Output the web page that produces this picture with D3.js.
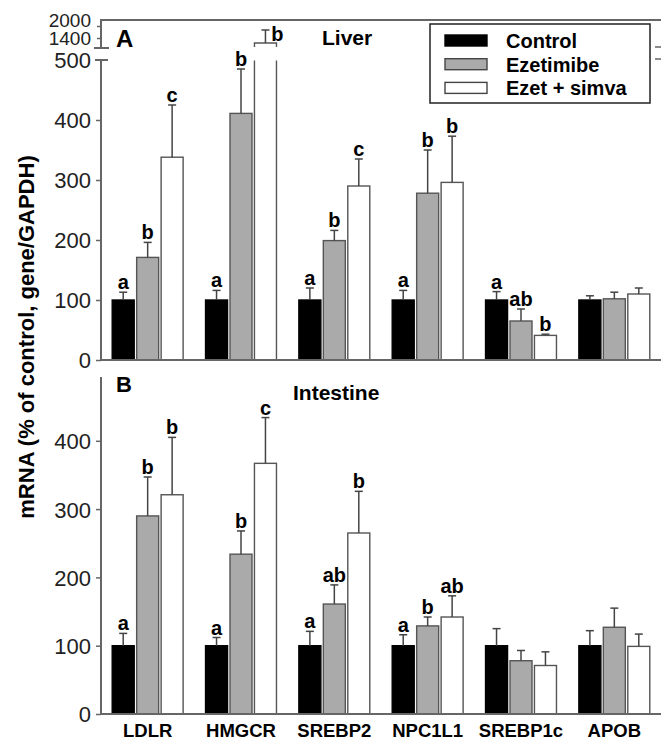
<!DOCTYPE html>
<html>
<head>
<meta charset="utf-8">
<script src="https://cdn.jsdelivr.net/npm/d3@7"></script>
<style>
  body { margin: 0; background: #fff; }
  svg { display: block; font-family: "Liberation Sans", Arial, sans-serif; }
</style>
</head>
<body>
<div id="container"></div>
<script>
var width = 661, height = 740;

// data
var genes = ["LDLR", "HMGCR", "SREBP2", "NPC1L1", "SREBP1c", "APOB"];
var series = ["Control", "Ezetimibe", "Ezet + simva"];

var liverControl = [100, 100, 100, 100, 100, 100];
var liverEzet = [171, 411, 199, 278, 65, 102];
var liverSimva = [338, 1150, 290, 296, 41, 110];
var liverControlSem = [13, 16, 20, 16, 14, 7];
var liverEzetSem = [25, 74, 17, 72, 20, 11];
var liverSimvaSem = [87, 650, 45, 77, 2, 10];
var liverLetters = [["a", "a", "a", "a", "a", ""],
                    ["b", "b", "b", "b", "ab", ""],
                    ["c", "b", "c", "b", "b", ""]];

var intControl = [100, 100, 100, 100, 100, 100];
var intEzet = [290, 234, 161, 129, 78, 127];
var intSimva = [321, 367, 265, 142, 71, 99];
var intControlSem = [18, 12, 21, 16, 25, 22];
var intEzetSem = [57, 34, 28, 13, 15, 28];
var intSimvaSem = [84, 67, 61, 31, 20, 18];
var intLetters = [["a", "a", "a", "a", "", ""],
                  ["b", "b", "ab", "b", "", ""],
                  ["b", "c", "b", "ab", "", ""]];

var lowTicks = [0, 100, 200, 300, 400, 500];
var upTicks = [1400, 2000];
var intTicks = [0, 100, 200, 300, 400];

var fills = ["#000", "#aaa", "#fff"];
var axisColor = "#666";

var svg = d3.select("#container").append("svg")
  .attr("width", width).attr("height", height);

var x0 = d3.scaleBand().domain(genes).range([101, 661])
  .paddingInner(0.24).paddingOuter(0.12);
var x1 = d3.scaleBand().domain(series).range([0, x0.bandwidth()])
  .paddingInner(0.1);

function rows(means, sems, letters) {
  var out = [];
  genes.forEach(function(g, i) {
    series.forEach(function(s, j) {
      out.push({gene: g, s: s, j: j, v: means[j][i], e: sems[j][i], letter: letters[j][i]});
    });
  });
  return out;
}

var liverData = rows([liverControl, liverEzet, liverSimva],
                     [liverControlSem, liverEzetSem, liverSimvaSem], liverLetters);
var intData = rows([intControl, intEzet, intSimva],
                   [intControlSem, intEzetSem, intSimvaSem], intLetters);

// scales
var yA = d3.scaleLinear().domain([0, 500]).range([360, 60]);
var yU = d3.scaleLinear().domain([900, 2300]).range([48, 20]);
var yB = d3.scaleLinear().domain([0, 500]).range([714, 372.5]);

function line(g, x1_, y1_, x2_, y2_, w, c) {
  g.append("line").attr("x1", x1_).attr("y1", y1_).attr("x2", x2_).attr("y2", y2_)
    .attr("stroke", c || axisColor).attr("stroke-width", w || 2);
}

function styleAxis(g) {
  g.select(".domain").remove();
  g.selectAll(".tick line").attr("stroke", axisColor).attr("stroke-width", 1.5);
  g.selectAll(".tick text").attr("fill", "#222").style("font-size", "22px");
}

var fmt = d3.format("d");

// ---- Panel A axes
var axA = svg.append("g");
axA.append("g").attr("transform", "translate(101,0)")
  .call(d3.axisLeft(yA).tickValues(lowTicks.slice(0, 5)).tickSize(5).tickPadding(5).tickFormat(fmt))
  .call(styleAxis);
axA.append("g").attr("transform", "translate(101,0)")
  .call(d3.axisLeft(yA).tickValues([500]).tickSize(0).tickPadding(10).tickFormat(fmt))
  .call(styleAxis);
axA.selectAll(".tick text").attr("dy", "0.36em");
var upAxis = axA.append("g").attr("transform", "translate(101,0)")
  .call(d3.axisLeft(yU).tickValues(upTicks).tickSize(4).tickPadding(6).tickFormat(fmt))
  .call(styleAxis);
upAxis.selectAll(".tick text").style("font-size", "19px")
  .attr("dy", function(d) { return d === 2000 ? "0.02em" : "0.32em"; });
line(axA, 101, yA(0), 101, yA(500));
line(axA, 95, yA(500), 108, yA(500));
line(axA, 101, 20, 101, yU(900));
line(axA, 94, yU(900), 109, yU(900));
line(axA, 100, 20, 661, 20);
line(axA, 655, 47, 661, 47, 1.5);
line(axA, 655, 59, 661, 59, 1.5);

// ---- Panel B axes
var axB = svg.append("g");
axB.append("g").attr("transform", "translate(101,0)")
  .call(d3.axisLeft(yB).tickValues(intTicks).tickSize(5).tickPadding(5).tickFormat(fmt))
  .call(styleAxis);
axB.selectAll(".tick text").attr("dy", "0.36em");
line(axB, 101, yB(0), 101, 377);

// ---- bars
function drawBars(data, y, broken) {
  var g = svg.append("g");
  data.forEach(function(d) {
    var bx = x0(d.gene) + x1(d.s), bw = x1.bandwidth();
    var cx = bx + bw / 2;
    var base = y(0);
    var stroke = d.j === 0 ? "#000" : "#555";
    var isBroken = broken && d.v > 500;
    if (!isBroken) {
      g.append("rect").attr("x", bx).attr("y", y(d.v))
        .attr("width", bw).attr("height", base - y(d.v))
        .attr("fill", fills[d.j]).attr("stroke", stroke).attr("stroke-width", 1.4);
      var top = y(d.v + d.e);
      line(g, cx, y(d.v), cx, top, 1.5, "#444");
      line(g, cx - 4, top, cx + 4, top, 1.5, "#444");
      if (d.letter) {
        g.append("text").attr("x", cx).attr("y", top - 3)
          .attr("text-anchor", "middle").style("font-size", "20px").style("font-weight", "bold")
          .text(d.letter);
      }
    } else {
      // lower piece, open at the break
      g.append("rect").attr("x", bx).attr("y", y(500))
        .attr("width", bw).attr("height", base - y(500)).attr("fill", fills[d.j]);
      g.append("path")
        .attr("d", "M" + bx + "," + base + "V" + (y(500) + 0.5) + "M" + (bx + bw) + "," + (y(500) + 0.5) + "V" + base)
        .attr("fill", "none").attr("stroke", stroke).attr("stroke-width", 1.4);
      // upper piece
      var ub = yU(900) - 1, ut = yU(d.v);
      g.append("path")
        .attr("d", "M" + bx + "," + ub + "V" + ut + "H" + (bx + bw) + "V" + ub)
        .attr("fill", fills[d.j]).attr("stroke", stroke).attr("stroke-width", 1.4);
      var utop = yU(d.v + d.e);
      line(g, cx, ut, cx, utop, 1.5, "#444");
      line(g, cx - 4, utop, cx + 4, utop, 1.5, "#444");
      if (d.letter) {
        g.append("text").attr("x", cx + 12).attr("y", utop + 11)
          .attr("text-anchor", "middle").style("font-size", "20px").style("font-weight", "bold")
          .text(d.letter);
      }
    }
  });
}

drawBars(liverData, yA, true);
drawBars(intData, yB, false);

// x axis baselines on top of bars
line(svg, 100, yA(0), 661, yA(0));
line(svg, 100, yB(0), 661, yB(0));

// gene labels
svg.append("g").selectAll("text").data(genes).enter().append("text")
  .attr("x", function(d) { return x0(d) + x0.bandwidth() / 2; })
  .attr("y", 737)
  .attr("text-anchor", "middle")
  .style("font-size", "18.5px").style("font-weight", "bold")
  .text(function(d) { return d; });

// panel titles
svg.append("text").attr("x", 116).attr("y", 47).style("font-size", "24px").style("font-weight", "bold").text("A");
svg.append("text").attr("x", 322).attr("y", 45).style("font-size", "21px").style("font-weight", "bold").text("Liver");
svg.append("text").attr("x", 116).attr("y", 392).style("font-size", "22px").style("font-weight", "bold").text("B");
svg.append("text").attr("x", 293).attr("y", 400).style("font-size", "21px").style("font-weight", "bold").text("Intestine");

// y title
svg.append("text")
  .attr("transform", "translate(34,337) rotate(-90)")
  .attr("text-anchor", "middle")
  .style("font-size", "22px").style("font-weight", "bold")
  .text("mRNA (% of control, gene/GAPDH)");

// legend
var legend = svg.append("g");
legend.append("rect").attr("x", 430).attr("y", 24).attr("width", 220).attr("height", 79)
  .attr("fill", "#fff").attr("stroke", "#222").attr("stroke-width", 1.5);
var legRows = legend.selectAll("g.item").data(series).enter().append("g").attr("class", "item")
  .attr("transform", function(d, i) { return "translate(445," + (35 + i * 23.7) + ")"; });
legRows.append("rect").attr("width", 42).attr("height", 11)
  .attr("fill", function(d, i) { return fills[i]; })
  .attr("stroke", function(d, i) { return i === 0 ? "#000" : "#444"; }).attr("stroke-width", 1.4);
legRows.append("text").attr("x", 61).attr("y", 13)
  .style("font-size", "20px").style("font-weight", "bold")
  .text(function(d) { return d; });
</script>
</body>
</html>
